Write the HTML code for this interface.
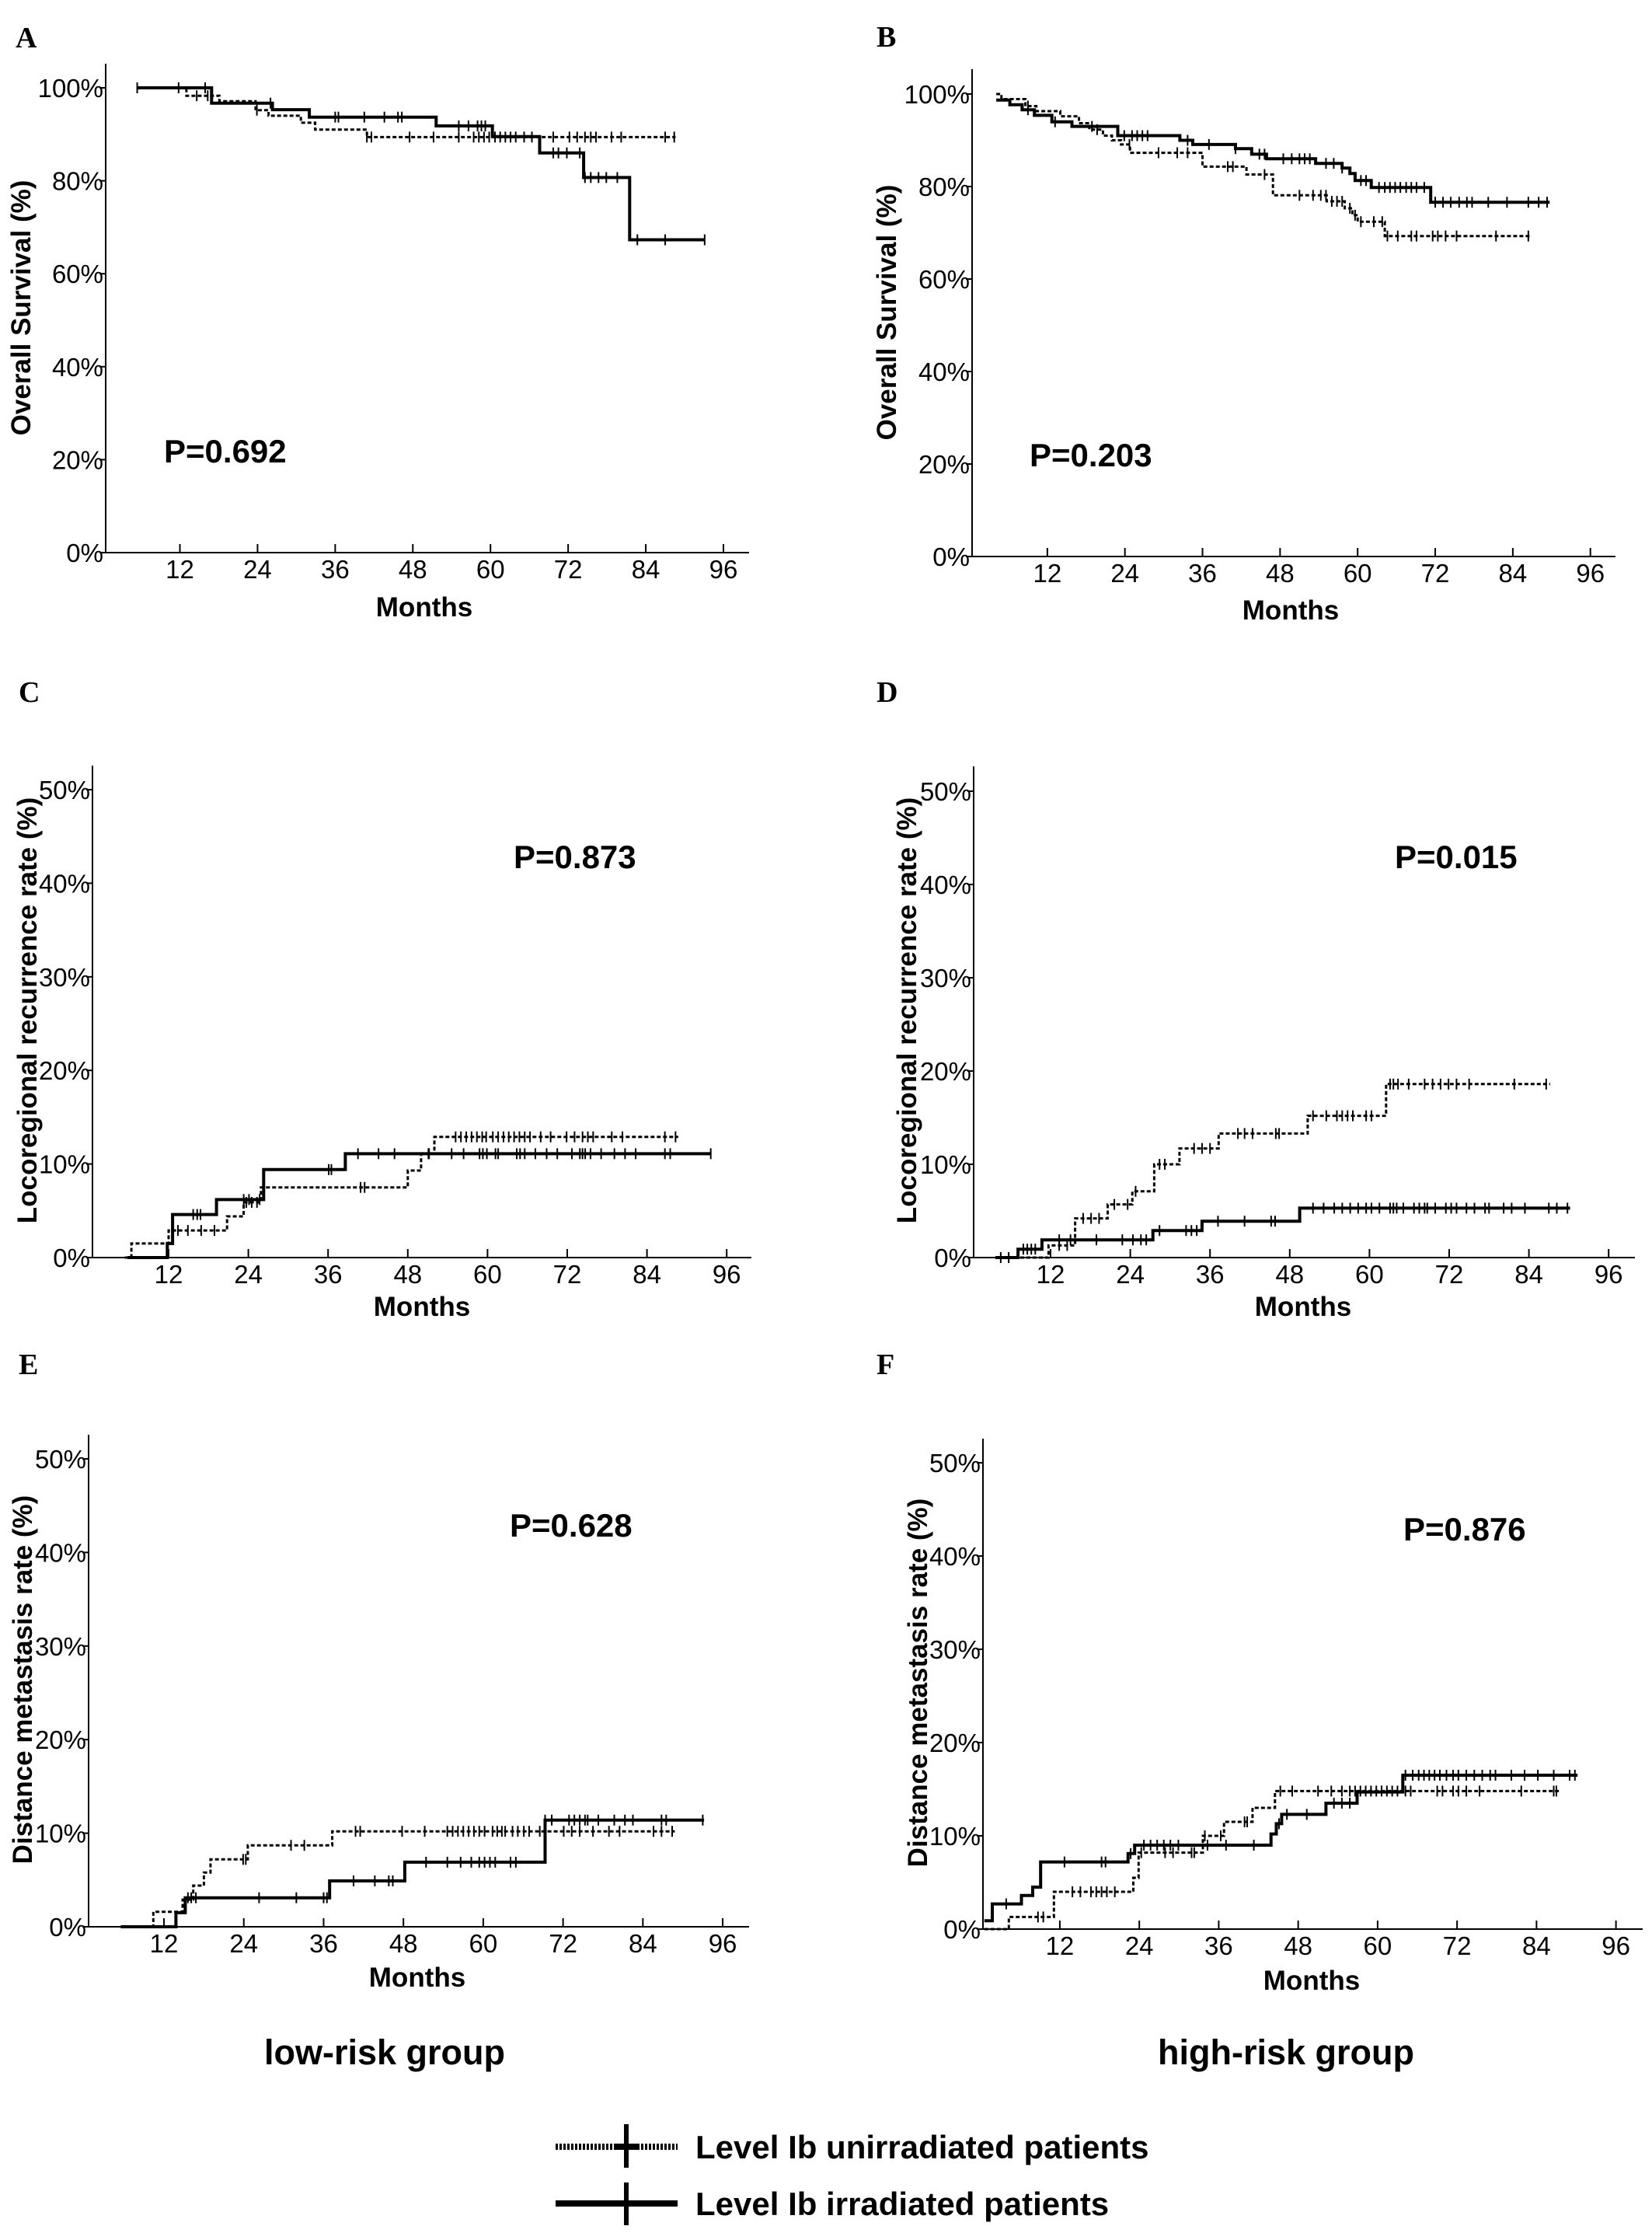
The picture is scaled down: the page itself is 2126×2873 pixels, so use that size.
<!DOCTYPE html>
<html>
<head>
<meta charset="utf-8">
<style>
html,body{margin:0;padding:0;background:#fff;}
svg{display:block;}
text{font-family:"Liberation Sans",Arial,sans-serif;fill:#000;}
.tick{font-size:33px;}
.ttl{font-size:35px;font-weight:bold;}
.pv{font-size:42px;font-weight:bold;}
.lbl{font-family:"Liberation Serif",serif;font-size:38px;font-weight:bold;}
</style>
</head>
<body>
<svg id="fig" width="2126" height="2873" viewBox="0 0 2126 2873" xmlns="http://www.w3.org/2000/svg">
<rect x="0" y="0" width="2126" height="2873" fill="#fff"/>
<g id="panels"></g>
<text x="495" y="2656" text-anchor="middle" style="font-size:45px;font-weight:bold">low-risk group</text>
<text x="1655" y="2656" text-anchor="middle" style="font-size:45px;font-weight:bold">high-risk group</text>
<g>
  <g>
    <line x1="715" y1="2762" x2="872" y2="2762" stroke="#000" stroke-width="8" stroke-dasharray="3 2"/>
    <line x1="790" y1="2762" x2="822" y2="2762" stroke="#000" stroke-width="8"/>
    <line x1="806" y1="2733" x2="806" y2="2789" stroke="#000" stroke-width="6"/>
    <text x="895" y="2777" style="font-size:42px;font-weight:bold">Level Ib unirradiated patients</text>
  </g>
  <g>
    <line x1="715" y1="2835" x2="872" y2="2835" stroke="#000" stroke-width="8"/>
    <line x1="806" y1="2808" x2="806" y2="2863" stroke="#000" stroke-width="6"/>
    <text x="895" y="2850" style="font-size:42px;font-weight:bold">Level Ib irradiated patients</text>
  </g>
</g>
</svg>
<script>
// ---- data (months, percent) ----
const xTickLabels = [12, 24, 36, 48, 60, 72, 84, 96];
const yTicksSurvival = [0, 20, 40, 60, 80, 100];
const yTicksRate = [0, 10, 20, 30, 40, 50];

// Panel A
const aSolidSteps = [[5.4,100],[16.9,96.7],[26.3,95.3],[32,93.7],[51.6,91.8],[60.3,89.5],[67.6,86],[74.4,80.7],[81.5,67.3]];
const aSolidEnd = 93.1;
const aSolidCensor = [5.4,11.8,15.9,26,36,36.5,40.5,43.6,45.7,46.3,55.1,56.6,58,58.6,59.2,69.7,70.5,71.8,73.8,74.6,75.5,76.7,77.9,79.6,82.7,87,93.1];
const aDashSteps = [[5.4,100],[13,98.3],[18.1,97.1],[23.7,95.2],[25.7,94],[30.7,92.5],[32.9,91],[40.9,89.4]];
const aDashEnd = 88.6;
const aDashCensor = [14.6,16.3,23.9,40.9,41.6,47.5,51.2,55.1,57.4,58.2,59,59.8,60.7,61.5,62.3,63.1,63.9,65.2,66.4,69.7,72.2,73.4,74.6,75.5,76.3,78.7,80.2,87,88.4];

// Panel B
const bSolidSteps = [[4.1,98.7],[6.2,97.7],[8.1,96.6],[10,95.4],[12.7,94],[15.8,93],[22.9,91],[32.5,90],[34.5,89.1],[41.1,88.2],[43.6,87],[45.9,86],[53.5,85],[57.6,84],[58.8,82.8],[59.6,81.3],[62.1,79.8],[71.3,76.6]];
const bSolidEnd = 89.7;
const bSolidCensor = [9,13.2,18.9,23.9,25.1,25.9,26.7,27.5,33.7,37,41.1,44.8,45.6,48.5,49.8,51,51.8,52.6,55.1,56.3,57.6,60.5,61.3,63.3,64.2,65,65.8,66.6,67.5,68.3,69.1,70.3,72,73.2,74.4,75.7,76.9,77.7,80.2,83.1,86.4,88,89.3];
const bDashSteps = [[4.1,100],[4.9,98.9],[8.6,97.4],[10.3,96.3],[14,95.2],[16.9,93.7],[18.5,92.3],[20.6,91],[22,90],[23.4,89.1],[24.8,87.3],[36,84.3],[42.8,82.6],[46.9,78.1],[55.2,76.8],[58,75.3],[59.2,73.8],[60,72.4],[64.2,69.3]];
const bDashEnd = 86.8;
const bDashCensor = [9,19.7,24.7,29.2,32.1,33.7,39.9,40.7,45.6,51,53.1,54.3,55.1,56,56.8,57.6,58.8,59.6,60.5,62.5,63.8,64.6,66.2,68.3,69.1,71.6,72.4,73.6,75.3,81.4,86.4];

// Panel C
const cSolidSteps = [[5.8,0],[11.8,1.5],[12.6,4.6],[19.2,6.2],[26.3,9.4],[38.6,11.1]];
const cSolidEnd = 93.6;
const cSolidCensor = [15.7,16.3,16.8,23.3,24.1,25.7,36.1,36.5,40.5,43.6,46,51.2,54.6,56.4,58.8,59.3,59.9,61.2,61.6,64.4,64.9,65.6,67.2,68.9,70.5,72.7,73.9,74.3,74.7,75.5,77.1,79.1,80.7,82.3,86.7,87.5,93.6];
const cDashSteps = [[5.4,0],[6.4,1.5],[12,2.9],[20.8,4.4],[23.3,5.9],[25.9,7.5],[48,9.3],[50,11.1],[52,12.9]];
const cDashEnd = 88.7;
const cDashCensor = [13.4,14.9,16.9,18.9,23.7,24.5,25.3,40.9,41.5,51.1,55.2,56,56.8,57.6,58.4,59.2,59.8,60.8,61.6,62.4,63.2,64,64.8,65.6,66.4,68,69.5,71.9,73.1,74.3,75.1,75.9,78.7,80.3,86.7,88.3];

// Panel D
const dSolidSteps = [[3.7,0],[7.1,0.9],[10.7,1.9],[27.4,2.9],[34.8,3.9],[49.5,5.3]];
const dSolidEnd = 90.2;
const dSolidCensor = [4.5,7.9,8.5,9.1,9.7,13.3,15,18.9,22.8,24.4,25.6,26.4,28.4,32.4,33.2,34,37.2,41.2,45.2,45.8,51.5,53.1,54.7,55.9,57.1,58.3,59.5,60.3,61.5,63.1,63.6,64.1,65.1,66.7,67.5,68.3,68.7,69.9,71.5,72.3,73.1,74.6,75.8,77.4,78,80.2,81.4,83.4,87,88.2,89.8];
const dDashSteps = [[3.7,0],[11.7,1.3],[15.7,4.2],[20.6,5.7],[24.3,7.1],[27.6,10],[31.4,11.7],[37.3,13.3],[50.7,15.2],[62.5,18.6]];
const dDashEnd = 87.2;
const dDashCensor = [5.7,13.3,14.5,16.9,18.1,19.3,21.6,23.6,24.8,28.4,29.2,33.6,34.8,36,40.2,41.2,42.4,45.9,46.4,51.5,53.5,55.1,55.9,56.7,57.5,59.5,60.3,63.1,63.6,64.3,65.9,68.3,69.5,70.7,71.9,73.1,75,81.8,86.6];

// Panel E
const eSolidSteps = [[5.5,0],[13.8,1.5],[15.2,3.1],[36.9,4.9],[48.2,6.9],[69.3,11.4]];
const eSolidEnd = 93.2;
const eSolidCensor = [15.6,16.1,16.8,26.3,31.9,36,36.5,40.5,43.7,45.8,46.4,51.4,54.6,56.6,58.2,59.4,60.2,61,61.8,64.1,64.9,69.3,70.3,72.9,73.7,74.5,75.3,75.7,77.3,79.7,81.3,82.5,86.8,87.5,93];
const eDashSteps = [[5.5,0],[10.4,1.6],[14.8,2.9],[16.4,4.4],[18,5.8],[19,7.2],[24.6,8.7],[37.3,10.2]];
const eDashEnd = 88.8;
const eDashCensor = [23.9,24.3,31.1,33.1,40.8,41.5,47.8,51.2,54.6,55.4,56.2,57,57.8,58.6,59.4,60.2,61.4,62.1,62.8,63.3,64.4,65.2,66.1,66.9,68.5,72.1,73.3,74.5,76.5,78.9,80.5,85.6,86.8,88.4];

// Panel F
const fSolidSteps = [[0.6,0.9],[1.8,2.7],[6.2,3.6],[7.9,4.5],[9.1,7.2],[22.3,8.1],[23.3,9],[43.9,10.2],[44.7,11.3],[45.5,12.3],[52.2,13.5],[56.9,14.7],[63.8,16.5]];
const fSolidEnd = 90.2;
const fSolidCensor = [3.9,12.7,18.3,18.9,22.7,24.7,25.7,26.7,27.7,28.7,29.9,34.3,37.1,41.3,45.1,46.3,49.3,53.4,54.6,55.8,64.2,65.3,66.2,67,67.8,68.6,69.4,70.4,71.4,72.2,73.4,74.6,75.8,77,77.8,80.2,82.2,84.2,86.6,89,89.8];
const fDashSteps = [[0.6,0],[4.3,1.3],[11.1,4],[23.1,5.5],[23.9,8.2],[33.6,10],[36.8,11.5],[41.1,13],[44.5,14.8]];
const fDashEnd = 87.4;
const fDashCensor = [8.7,9.5,13.9,15.1,16.7,17.5,18.3,19.1,20.3,24.3,27.9,29.1,31.9,32.3,33.9,36.3,39.9,40.3,45.3,47.1,51,53,54.6,55.8,56.6,57.4,58.2,59,59.8,60.6,61.4,62.2,63,64.2,65,69,69.8,71.4,72.2,73.4,75.4,81.7,86.6,87];

const pValues = ["P=0.692", "P=0.203", "P=0.873", "P=0.015", "P=0.628", "P=0.876"];

// ---- layout (pixels) ----
const NS = "http://www.w3.org/2000/svg";
const root = document.getElementById('panels');
function mk(tag, attrs, parent) {
  const e = document.createElementNS(NS, tag);
  for (const k in attrs) e.setAttribute(k, attrs[k]);
  (parent || root).appendChild(e);
  return e;
}

const layouts = [
  {id:'a', letter:'A', lx:20, ly:61, ax:136, axEnd:964, m0:131.6, ppm:8.327, yZero:711, yRef:113, refVal:100, yTop:82, ticks:yTicksSurvival,
   title:'Overall Survival (%)', tx:27, ty:396, px:211, py:595, mx:546, my:793, solid:[aSolidSteps,aSolidEnd,aSolidCensor], dash:[aDashSteps,aDashEnd,aDashCensor]},
  {id:'b', letter:'B', lx:1128, ly:60, ax:1251, axEnd:2079, m0:1248, ppm:8.32, yZero:716, yRef:121, refVal:100, yTop:89, ticks:yTicksSurvival,
   title:'Overall Survival (%)', tx:1141, ty:402, px:1325, py:600, mx:1661, my:797, solid:[bSolidSteps,bSolidEnd,bSolidCensor], dash:[bDashSteps,bDashEnd,bDashCensor]},
  {id:'c', letter:'C', lx:24, ly:903, ax:119, axEnd:967, m0:114.4, ppm:8.55, yZero:1618, yRef:1016, refVal:50, yTop:985, ticks:yTicksRate,
   title:'Locoregional recurrence rate (%)', tx:35, ty:1300, px:661, py:1117, mx:543, my:1693, solid:[cSolidSteps,cSolidEnd,cSolidCensor], dash:[cDashSteps,cDashEnd,cDashCensor]},
  {id:'d', letter:'D', lx:1128, ly:903, ax:1253, axEnd:2104, m0:1249.4, ppm:8.55, yZero:1618, yRef:1018, refVal:50, yTop:986, ticks:yTicksRate,
   title:'Locoregional recurrence rate (%)', tx:1167, ty:1300, px:1795, py:1117, mx:1677, my:1693, solid:[dSolidSteps,dSolidEnd,dSolidCensor], dash:[dDashSteps,dDashEnd,dDashCensor]},
  {id:'e', letter:'E', lx:24, ly:1768, ax:114, axEnd:964, m0:108.3, ppm:8.56, yZero:2479, yRef:1877, refVal:50, yTop:1846, ticks:yTicksRate,
   title:'Distance metastasis rate (%)', tx:29, ty:2161, px:656, py:1977, mx:537, my:2556, solid:[eSolidSteps,eSolidEnd,eSolidCensor], dash:[eDashSteps,eDashEnd,eDashCensor]},
  {id:'f', letter:'F', lx:1128, ly:1768, ax:1265, axEnd:2114, m0:1261.7, ppm:8.52, yZero:2482, yRef:1882, refVal:50, yTop:1851, ticks:yTicksRate,
   title:'Distance metastasis rate (%)', tx:1181, ty:2165, px:1806, py:1982, mx:1688, my:2560, solid:[fSolidSteps,fSolidEnd,fSolidCensor], dash:[fDashSteps,fDashEnd,fDashCensor]}
];

function valueAt(steps, m) {
  let v = steps[0][1];
  for (const s of steps) { if (s[0] <= m + 1e-9) v = s[1]; }
  return v;
}

layouts.forEach((L, i) => {
  const g = mk('g', {});
  
  
  const X = m => L.m0 + m * L.ppm;
  const Y = v => L.yZero - v * (L.yZero - L.yRef) / L.refVal;

  const lt = mk('text', {x:L.lx, y:L.ly, class:'lbl'}, g);
  lt.textContent = L.letter;
  
  

  const yax = mk('line', {x1:L.ax, y1:L.yTop, x2:L.ax, y2:L.yZero, stroke:'#000', 'stroke-width':2}, g);
  
  
  const xax = mk('line', {x1:L.ax, y1:L.yZero, x2:L.axEnd, y2:L.yZero, stroke:'#000', 'stroke-width':2}, g);
  
  

  L.ticks.forEach(t => {
    const yy = Y(t);
    mk('line', {x1:L.ax - 8, y1:yy, x2:L.ax, y2:yy, stroke:'#000', 'stroke-width':2}, g);
    const tl = mk('text', {x:L.ax - 3, y:yy + 12, class:'tick', 'text-anchor':'end'}, g);
    tl.textContent = t + '%';
    
    
  });
  xTickLabels.forEach(t => {
    const xx = X(t);
    mk('line', {x1:xx, y1:L.yZero - 11, x2:xx, y2:L.yZero, stroke:'#000', 'stroke-width':2}, g);
    const tl = mk('text', {x:xx, y:L.yZero + 33, class:'tick', 'text-anchor':'middle'}, g);
    tl.textContent = t;
    
    
  });

  const yt = mk('text', {x:L.tx + 12, y:L.ty, class:'ttl', 'text-anchor':'middle', transform:'rotate(-90 ' + (L.tx + 12) + ' ' + L.ty + ')'}, g);
  yt.textContent = L.title;
  
  

  const xt = mk('text', {x:L.mx, y:L.my, class:'ttl', 'text-anchor':'middle'}, g);
  xt.textContent = 'Months';
  
  

  const pv = mk('text', {x:L.px, y:L.py, class:'pv'}, g);
  pv.textContent = pValues[i];
  
  

  [['dash', L.dash, 3, '5 3'], ['solid', L.solid, 4, null]].forEach(([nm, s, w, da]) => {
    const steps = s[0], end = s[1], cens = s[2];
    let d = 'M' + X(steps[0][0]).toFixed(1) + ' ' + Y(steps[0][1]).toFixed(1);
    for (let k = 1; k < steps.length; k++) {
      d += ' H' + X(steps[k][0]).toFixed(1) + ' V' + Y(steps[k][1]).toFixed(1);
    }
    d += ' H' + X(end).toFixed(1);
    const attrs = {d:d, fill:'none', stroke:'#000', 'stroke-width':w};
    if (da) attrs['stroke-dasharray'] = da;
    const p = mk('path', attrs, g);
    
    
    cens.forEach(c => {
      const cx = X(c), cy = Y(valueAt(steps, c));
      const cm = mk('line', {x1:cx, y1:cy - 7, x2:cx, y2:cy + 7, stroke:'#000', 'stroke-width':2}, g);
      
      
    });
  });
});
</script>
</body>
</html>
